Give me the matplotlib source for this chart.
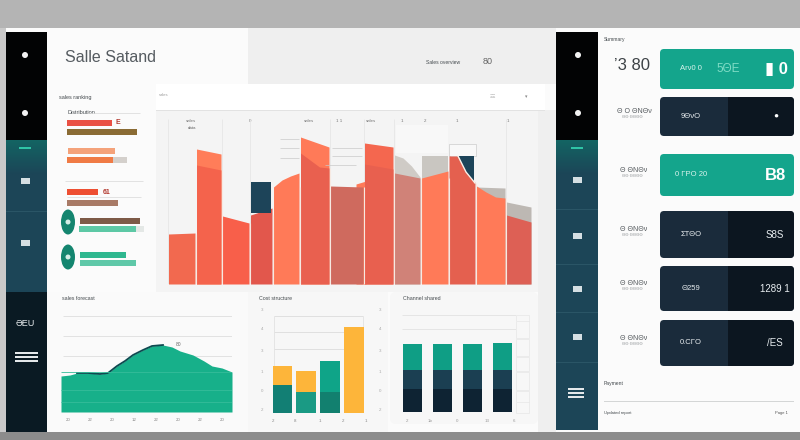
import matplotlib
matplotlib.use('Agg')
import matplotlib.pyplot as plt
from matplotlib.patches import Rectangle, FancyBboxPatch, Ellipse
import numpy as np

plt.rcParams['font.family'] = ['Liberation Sans', 'DejaVu Sans']

W, H = 800, 440

# main chart, tops of each column
main_edges = [168, 196, 222, 250, 273, 300, 330, 364, 394, 421, 449, 476, 506, 532]
main_tops = [[50, 51], [119, 114], [68, 61], [69, 76], [97, 104, 108, 111], [131, 124, 117, 116],
             [98, 97], [120, 115], [111, 106], [106, 113], [128, 122, 112, 101], [98, 92, 87, 86], [69, 62]]
main_colors = ['#f2694f', '#f4634c', '#f85f4a', '#e2574c', '#ff7a58', '#e9604f',
               '#cf6a5e', '#e8604f', '#d08278', '#ff7a58', '#e4604f', '#ff7a58', '#dd6055']
cap_tops = {1: [135, 130], 5: [147, 137], 7: [141, 137], 8: [129, 126, 118, 107], 9: [128, 128],
            11: [97, 96], 12: [82, 77]}
cap_colors = {1: '#ff7d59', 5: '#ff7a58', 7: '#f4674f', 8: '#cfcbc6', 9: '#c9c6c1',
              11: '#bfbab5', 12: '#bdb8b3'}

# small horizontal bars on the left
left_rows = [123, 132, 151, 160, 192, 203, 221, 229, 255, 263]
left_vals = [45, 70, 47, 46, 31, 51, 60, 57, 46, 56]
left_starts = [67, 67, 68, 67, 67, 67, 80, 79, 80, 80]
left_colors = ['#ea5044', '#8a6b34', '#f4a27a', '#f07b45', '#ee4f32', '#a87a66',
               '#7d5a47', '#5dc8a5', '#2fb78f', '#5fc8a8']

# area chart
area_x = [0, 9, 16, 27, 39, 47, 56, 64, 72, 82, 91, 102, 111, 119, 132, 143, 151, 161, 171]
area_y = [36, 37, 39, 39, 38, 39, 46, 51, 57, 62, 66, 67, 65, 61, 57, 51, 46, 44, 40]

# stacked bars
mid_bottom = [28, 21, 21, 0]
mid_middle = [0, 0, 31, 0]
mid_top = [19, 21, 0, 86]
mid_bottom_colors = ['#127f74', '#1a9a84', '#12806f', '#fdb53a']

right_navy = [23, 23, 23, 23]
right_slate = [19, 19, 19, 19]
right_teal = [26, 26, 26, 27]

# cards on the right
card_rows = [(49, 89), (97, 136), (154, 196), (211, 258), (266, 311), (320, 366)]
card_kinds = ['teal', 'dark', 'teal', 'dark', 'dark', 'dark']
card_left = ['Ar\u03bd0 0', '9ΘνΟ', '0 ΓΡΟ 20', 'ΣΤΘΟ', 'Θ259', '0.CΓΟ']
card_mid = ['5ΘΕ', '', '', '', '', '']
card_right = ['\u25ae 0', '\u25cf', 'B8', 'S8S', '1289 1', '/ES']
row_labels = ['', 'Θ Ο ΘΝΘν', 'Θ ΘΝΘν', 'Θ ΘΝΘν', 'Θ ΘΝΘν', 'Θ ΘΝΘν']

fig = plt.figure(figsize=(8, 4.4), dpi=100, facecolor='#ffffff')
bg = fig.add_axes([0, 0, 1, 1])
bg.set_xlim(0, W)
bg.set_ylim(H, 0)
bg.axis('off')


def box(x0, y0, x1, y1, color, z=1, ax=bg):
    ax.add_patch(Rectangle((x0, y0), x1 - x0, y1 - y0, fc=color, ec='none', zorder=z))


def card(x0, y0, x1, y1, color, z=2, r=4):
    p = FancyBboxPatch((x0 + r, y0 + r), x1 - x0 - 2 * r, y1 - y0 - 2 * r,
                       boxstyle=f'round,pad={r},rounding_size={r}', fc=color, ec='none', zorder=z)
    bg.add_patch(p)
    return p


def px_axes(x0, y0, x1, y1):
    ax = fig.add_axes([x0 / W, 1 - y1 / H, (x1 - x0) / W, (y1 - y0) / H])
    ax.patch.set_alpha(0)
    ax.axis('off')
    return ax


# page
box(0, 0, W, 28, '#b4b4b4')
box(0, 432, W, H, '#8c8c8c')
box(0, 28, 6, 432, '#c9c9c9')
box(6, 28, W, 432, '#fbfbfb')
box(248, 28, 556, 84, '#efefef')
box(156, 110, 545, 292, '#f4f4f4')
box(156, 84, 545, 110, '#ffffff', z=2)
box(156, 110, 545, 111, '#e2e2e2', z=2)
box(47, 292, 250, 432, '#fafafa')
box(248, 292, 388, 432, '#f7f7f7')
card(390, 292, 538, 424, '#f7f7f7', z=1.5, r=6)
box(538, 110, 556, 432, '#efefef')

# sidebars
for x0, x1 in [(6, 47), (556, 598)]:
    box(x0, 32, x1, 140, '#020304')
    box(x0, 140, x1, 292, '#1c4557')
    bg.imshow(np.linspace(0, 1, 30).reshape(-1, 1), extent=(x0, x1, 175, 140), aspect='auto',
              cmap=matplotlib.colors.LinearSegmentedColormap.from_list('s', ['#136463', '#1c4557']),
              zorder=1.2)
box(6, 292, 47, 432, '#0a1a23')
box(556, 292, 598, 430, '#1c4557')
bg.set_xlim(0, W)
bg.set_ylim(H, 0)
for y in [211]:
    box(6, y, 47, y + 0.7, '#2a5566', z=3)
for y in [209, 264, 312, 362]:
    box(556, y, 598, y + 0.7, '#2a5566', z=3)
for x0, x1 in [(19, 31), (571, 583)]:
    box(x0, 147, x1, 149, '#2fc4a6', z=3)

# sidebar icons
for cx, cy in [(25, 55), (25, 113), (578, 55), (578, 113)]:
    bg.add_patch(Ellipse((cx, cy), 6, 6, fc='#f2f2f2', ec='none', zorder=3))
for cx, cy in [(25, 181), (25, 243), (577, 180), (577, 236), (577, 289), (577, 337)]:
    box(cx - 4.5, cy - 3, cx + 4.5, cy + 3, '#d5dfe3', z=3)
for y in [352, 356, 360]:
    box(15, y, 38, y + 1.8, '#e4e8ea', z=3)
for y in [388, 392, 396]:
    box(568, y, 584, y + 1.6, '#e4e8ea', z=3)
bg.text(25, 323, 'ƏEU', color='#e8ecee', fontsize=6.5, ha='center', va='center', zorder=4)

# titles and header text
bg.text(65, 58, 'Salle Satand', fontsize=11.5, color='#555b60', va='center', zorder=4)
for x, y, s, fs in [(59, 97, 'sales ranking', 4), (67, 113, 'Distribution', 4),
                    (62, 298, 'sales forecast', 3.8), (259, 298, 'Cost structure', 3.8),
                    (403, 298, 'Channel shared', 3.8), (426, 62, 'Sales overview', 3.6),
                    (604, 39, 'Summary', 3.6), (604, 383, 'Payment', 3.6),
                    (604, 413, 'Updated report', 3)]:
    bg.text(x, y, s, fontsize=fs, color='#444a4e', va='center', zorder=4)
bg.text(488, 62, '80', fontsize=6.5, color='#666666', ha='center', va='center', zorder=4)
bg.text(775, 413, 'Page 1', fontsize=3, color='#555555', va='center', zorder=4)
box(604, 401, 794, 402, '#d4d6d6', z=3)

# main chart
ax = px_axes(168, 110, 532, 284)
ax.set_xlim(168, 532)
ax.set_ylim(0, 174)
for x in [168, 222, 250, 330, 364, 394, 506, 532]:
    ax.vlines(x, 0, 165, color='#e6e6e6', lw=0.6, zorder=0)
ax.fill_between([356, 366], 0, [100, 103], color='#ff7a58', lw=0, zorder=1.5)
for i, tops in enumerate(main_tops):
    x = np.linspace(main_edges[i] + 0.5, main_edges[i + 1] - 1, len(tops))
    if i in cap_tops:
        cx = np.linspace(main_edges[i] + 0.5, main_edges[i + 1] - 1, len(cap_tops[i]))
        ax.fill_between(cx, 0, cap_tops[i], color=cap_colors[i], lw=0, zorder=1)
    ax.fill_between(x, 0, tops, color=main_colors[i], lw=0, zorder=2)
ax.bar([261], [31], bottom=[71], width=20, color='#1d4459', zorder=3)
ax.bar([466], [26], bottom=[102], width=16, color='#1d4459', zorder=3)
ax.fill_between([449, 458, 466, 475], 102, [128, 128, 112, 101], color='#e4604f', lw=0, zorder=3.1)
ax.plot([458, 466, 475], [128, 112, 101], color='#f7f1ea', lw=1, zorder=4)
ax.vlines(main_edges[1:-1], 0, [50, 114, 61, 69, 97, 116, 97, 115, 106, 106, 101, 86], color='#f6e9e2',
          lw=0.8, zorder=3.5)
for y, x0, x1 in [(145, 280, 299), (136, 280, 299), (126, 280, 299),
                  (136, 332, 362), (128, 332, 362), (119, 325, 356)]:
    ax.hlines(y, x0, x1, color='#c9c9c9', lw=0.5, zorder=1)
ax.add_patch(Rectangle((396, 131), 52, 28, fc='#f8f8f8', ec='none', zorder=0.5))
ax.add_patch(Rectangle((449, 128), 27, 12, fc='#f8f8f8', ec='#cccccc', lw=0.5, zorder=0.5))
for x, s in [(191, 'sales'), (250, '0'), (309, 'sales'), (339, '1 1'), (371, 'sales'),
             (402, '1'), (425, '2'), (457, '1'), (508, '1')]:
    bg.text(x, 121, s, fontsize=3.2, color='#777777', ha='center', va='center', zorder=4)
bg.text(192, 128, 'data', fontsize=3.2, color='#666666', ha='center', va='center', zorder=4)
bg.text(493, 97, 'ΞΞ', fontsize=3.5, color='#999999', ha='center', va='center', zorder=4)
bg.text(526, 97, '\u25be', fontsize=3.5, color='#888888', ha='center', va='center', zorder=4)
bg.text(159, 95, 'sales', fontsize=3, color='#999999', va='center', zorder=4)

# left bars
ax = px_axes(47, 110, 156, 280)
ax.set_xlim(47, 156)
ax.set_ylim(280, 110)
ax.barh(left_rows, left_vals, left=left_starts, height=5.5, color=left_colors, zorder=2)
ax.barh([160, 229], [14, 8], left=[113, 136], height=5.5, color=['#d4d0cc', '#e4e8e6'], zorder=1)
ax.hlines([113, 181, 197], [88, 65, 67], [140, 143, 141], color='#d8d8d8', lw=0.5)
for x, y, s in [(115, 123, 'E'), (103, 192, '61')]:
    ax.text(x, y, s, fontsize=5, color='#b33a30', va='center', fontweight='bold')
for cy, ry in [(222, 12.5), (257, 12.5)]:
    ax.add_patch(Ellipse((68, cy), 14, ry * 2, fc='#14856f', ec='none', zorder=3))
    ax.add_patch(Ellipse((68, cy), 5, 5, fc='#d5eee7', ec='none', zorder=4))

# area chart
ax = px_axes(61, 300, 232, 412)
ax.set_xlim(0, 171)
ax.set_ylim(0, 112)
for y in [96, 76, 56]:
    ax.hlines(y, 2, 171, color='#e2e2e2', lw=0.7, zorder=0)
ax.fill_between(area_x, 0, area_y, color='#17b08a', lw=0, zorder=1)
ax.plot(area_x[2:12], area_y[2:12], color='#0d4a50', lw=1.3, zorder=2)
for y in [10, 22, 40]:
    ax.hlines(y, 0, 171, color='#36bd9a', lw=0.6, zorder=3)
for x, s in zip(np.arange(7, 171, 22), ['20', '22', '20', '12', '22', '20', '22', '20']):
    bg.text(61 + x, 420, s, fontsize=3.2, color='#888888', ha='center', va='center', zorder=4)
bg.text(179, 345, '80', fontsize=3.6, color='#666666', ha='center', va='center', zorder=4)

# stacked bars, middle card
ax = px_axes(270, 300, 370, 413)
ax.set_xlim(-0.527, 3.69)
ax.set_ylim(0, 113)
ax.hlines([97, 81, 64], -0.37, 3.4, color='#dcdcdc', lw=0.6, zorder=0)
ax.vlines([-0.37, 3.4], 0, 97, color='#e2e2e2', lw=0.6, zorder=0)
mx = np.arange(4)
ax.bar(mx, mid_bottom, width=0.84, color=mid_bottom_colors, zorder=1)
ax.bar(mx, mid_middle, bottom=mid_bottom, width=0.84, color='#0fa488', zorder=1)
ax.bar(mx, mid_top, bottom=np.add(mid_bottom, mid_middle), width=0.84, color='#fdb53a', zorder=1)
for y, s in zip([414, 395, 376, 355, 333, 314], ['2', '0', '1', '3', '4', '3']):
    bg.text(262, y - 4, s, fontsize=3.2, color='#aaaaaa', ha='center', va='center', zorder=4)
    bg.text(380, y - 4, s, fontsize=3.2, color='#aaaaaa', ha='center', va='center', zorder=4)
for x, s in zip([273, 295, 320, 343, 366], ['2', '8', '1', '2', '1']):
    bg.text(x, 421, s, fontsize=3.2, color='#888888', ha='center', va='center', zorder=4)

# stacked bars, right card
ax = px_axes(398, 300, 516, 412)
ax.set_xlim(-0.48, 3.46)
ax.set_ylim(0, 112)
ax.hlines([97, 83], -0.36, 3.46, color='#e2e2e2', lw=0.6, zorder=0)
rx = np.arange(4)
ax.bar(rx, right_navy, width=0.64, color='#0e2333', zorder=1)
ax.bar(rx, right_slate, bottom=right_navy, width=0.64, color='#1b3f52', zorder=1)
ax.bar(rx, right_teal, bottom=np.add(right_navy, right_slate), width=0.64, color='#0f9e85', zorder=1)
for y0, y1 in [(315, 321), (321, 338), (339, 356), (357, 371), (372, 390), (391, 402), (402, 413)]:
    box(516, y0, 529, y1, '#f7f7f7', z=3)
    bg.add_patch(Rectangle((516, y0), 13, y1 - y0, fc='none', ec='#e6e6e6', lw=0.5, zorder=3))
for x, s in zip([407, 430, 457, 487, 514], ['2', '1b', '0', '13', '6']):
    bg.text(x, 421, s, fontsize=3.2, color='#999999', ha='center', va='center', zorder=4)

# right cards
for (y0, y1), kind, l, m, r, lab in zip(card_rows, card_kinds, card_left, card_mid, card_right, row_labels):
    cy = (y0 + y1) / 2
    if kind == 'teal':
        card(660, y0, 794, y1, '#14a58c')
        tc = '#d9f3ec'
    else:
        outline = card(660, y0, 794, y1, '#1a2b3b')
        # darker right half, cut by the rounded outline
        half = Rectangle((728, y0), 66, y1 - y0, fc='#0c1620', ec='none', zorder=2.2)
        bg.add_patch(half)
        half.set_clip_path(outline)
        tc = '#e8edf0'
    bg.text(691, cy, l, fontsize=5.5, color=tc, ha='center', va='center', zorder=5)
    if m:
        bg.text(728, cy, m, fontsize=8.5, color='#7fdcc6', ha='center', va='center', zorder=5)
    fs = 12 if kind == 'teal' else 7
    if kind == 'teal' or r == '\u25cf':
        bg.text(776, cy, r, fontsize=fs if r != '\u25cf' else 6, color='#ffffff',
                ha='center', va='center', fontweight='bold', zorder=5)
    else:
        bg.text(775, cy, r, fontsize=7, color=tc, ha='center', va='center', zorder=5)
    if lab:
        bg.text(634, cy - 5, lab, fontsize=5, color='#555a5e', ha='center', va='center', zorder=5)
        bg.text(632, cy + 1, 'ΘΘ ΘΘΘΘ', fontsize=3, color='#8b8f92', ha='center', va='center', zorder=5)
bg.text(632, 66, '\u02bc3 80', fontsize=12, color='#3d4246', ha='center', va='center', zorder=5)

fig.savefig('out.png', dpi=100)
